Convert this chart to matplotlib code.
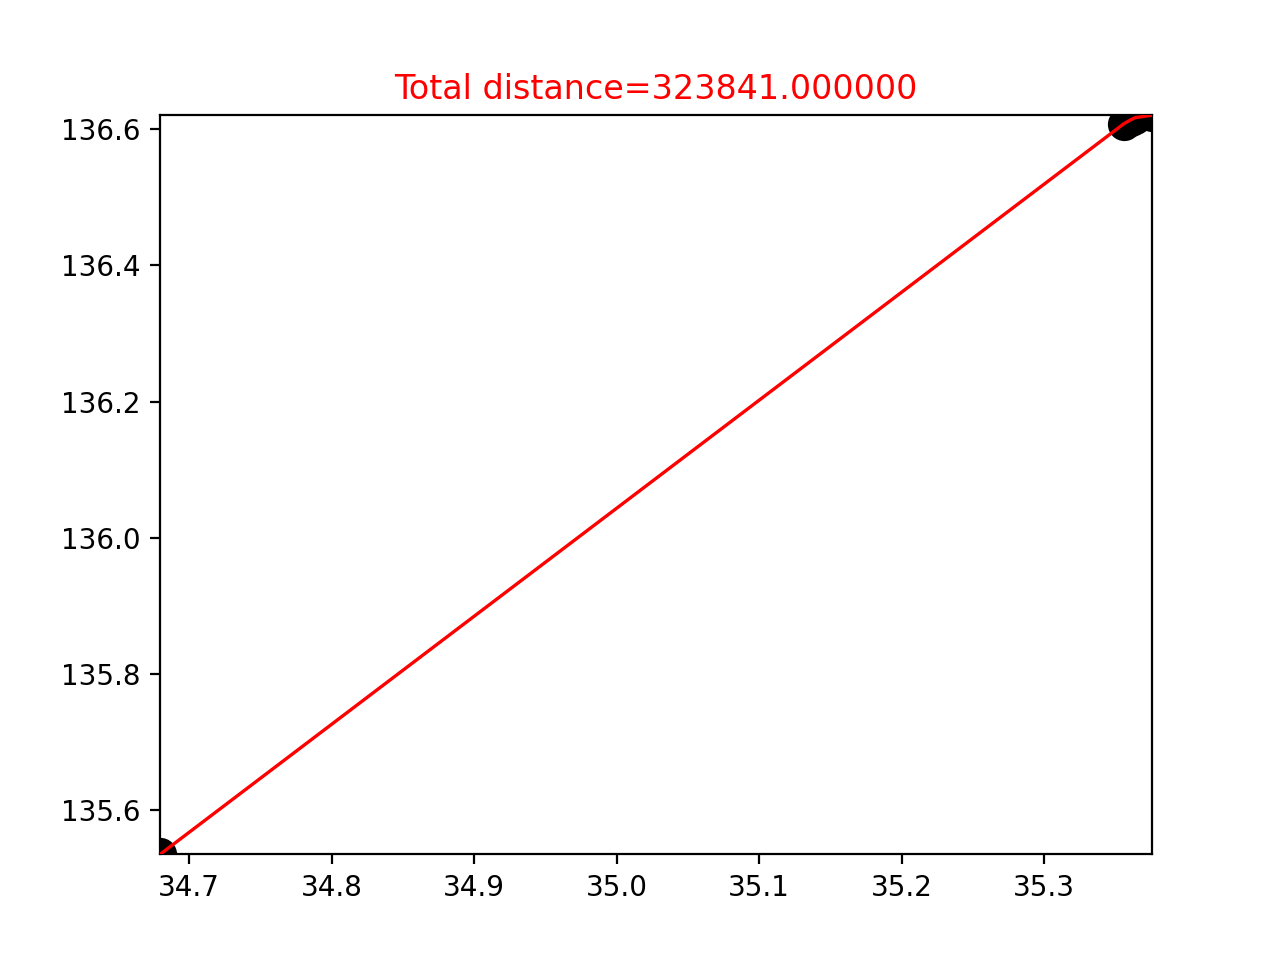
import matplotlib.pyplot as plt

# city coordinates (latitude, longitude) in tour order
lat = [34.6796, 35.3560, 35.3610, 35.3640, 35.3758]
lon = [135.5353, 136.6080, 136.6140, 136.6170, 136.6206]

fig = plt.figure(figsize=(6.4, 4.8), dpi=200)
ax = fig.add_subplot(111)
ax.scatter(lat, lon, s=120, c="black", zorder=2)
ax.plot(lat, lon, color="red", linewidth=1.2, zorder=3)
ax.set_xlim(min(lat), max(lat))
ax.set_ylim(min(lon), max(lon))
ax.set_title("Total distance=323841.000000", color="red")
fig.savefig("out.png")
